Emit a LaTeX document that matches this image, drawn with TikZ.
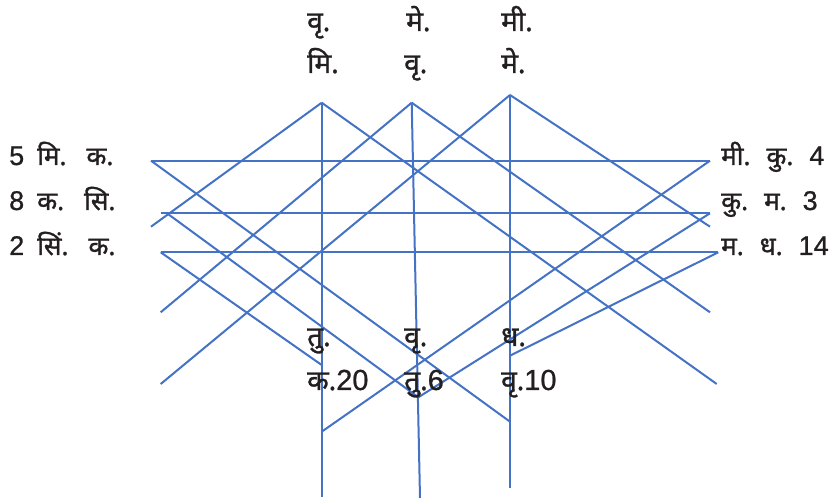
\documentclass[tikz,border=0pt]{standalone}
\usepackage{fontspec}
\newfontfamily\dev[Script=Devanagari,FakeBold=1.2]{Noto Sans}
\newfontfamily\lat[FakeBold=0.8]{Liberation Sans}
\definecolor{lineblue}{RGB}{68,114,196}
\definecolor{txt}{RGB}{35,31,32}
\newcommand{\wgap}{\hspace{16pt}}
\newcommand{\lwgap}{\hspace{20pt}}
\newcommand{\dgap}{\hspace{13pt}}
\newcommand{\dg}[1]{{\lat\fontsize{27}{29}\selectfont #1}}
\newcommand{\bdg}[1]{{\lat\fontsize{29}{31}\selectfont #1}}
\begin{document}
\begin{tikzpicture}[x=1pt,y=-1pt,
  ln/.style={draw=lineblue,line width=2pt},
  sidelbl/.style={anchor=base west,inner sep=0pt,text=txt,font=\dev\fontsize{26}{28}\selectfont},
  toplbl/.style={anchor=base west,inner sep=0pt,text=txt,font=\dev\fontsize{28}{30}\selectfont},
  botlbl/.style={anchor=base west,inner sep=0pt,text=txt,font=\dev\fontsize{28}{30}\selectfont}]
\useasboundingbox (0,0) rectangle (830,502);
% apexes and bottoms
\coordinate (A1) at (321.7,102.7);
\coordinate (A2) at (411.7,102.7);
\coordinate (A3) at (510,95);
\coordinate (B1) at (321.7,497);
\coordinate (B2) at (420,498);
\coordinate (B3) at (510,488);
% horizontals
\coordinate (L1) at (151,160.7);
\coordinate (R1) at (710,160.7);
\coordinate (L2) at (160.7,213.3);
\coordinate (L2d) at (167,213.3);
\coordinate (R2) at (710,213.3);
\coordinate (L3) at (160.7,252.3);
\coordinate (R3) at (718.3,252.3);
% diagonal ends
\coordinate (LA1) at (151,226.7);
\coordinate (LA2) at (160.7,312.3);
\coordinate (LA3) at (160.7,384);
\coordinate (RA1) at (716.7,384);
\coordinate (RA2) at (710,312.3);
\coordinate (RA3) at (710,226.7);
\coordinate (P1) at (321.7,365);
\coordinate (P2) at (321.7,431.7);
\coordinate (Q) at (418.3,397.3);
\coordinate (P3) at (510,421.7);
\coordinate (P4) at (510,355.7);
% lines
\draw[ln] (A1) -- (B1);
\draw[ln] (A2) -- (B2);
\draw[ln] (A3) -- (B3);
\draw[ln] (L1) -- (R1);
\draw[ln] (L2) -- (R2);
\draw[ln] (L3) -- (R3);
\draw[ln] (A1) -- (LA1);
\draw[ln] (A2) -- (LA2);
\draw[ln] (A3) -- (LA3);
\draw[ln] (A1) -- (RA1);
\draw[ln] (A2) -- (RA2);
\draw[ln] (A3) -- (RA3);
\draw[ln] (L1) -- (P3);
\draw[ln] (L2d) -- (Q);
\draw[ln] (L3) -- (P1);
\draw[ln] (P2) -- (R1);
\draw[ln] (Q) -- (R2);
\draw[ln] (P4) -- (R3);
% top labels
\node[toplbl] (t11) at (307,31) {वृ.};
\node[toplbl] (t12) at (406,31) {मे.};
\node[toplbl] (t13) at (501,31) {मी.};
\node[toplbl] (t21) at (307,73) {मि.};
\node[toplbl] (t22) at (404,73) {वृ.};
\node[toplbl] (t23) at (501,73) {मे.};
% left labels
\node[sidelbl] (l1) at (9,165) {\dg{5}\dgap मि.\lwgap क.};
\node[sidelbl] (l2) at (9,210) {\dg{8}\dgap क.\lwgap सि.};
\node[sidelbl] (l3) at (9,255) {\dg{2}\dgap सिं.\lwgap क.};
% right labels
\node[sidelbl] (r1) at (721,165) {मी.\wgap कु.\wgap\dg{4}};
\node[sidelbl] (r2) at (721,210) {कु.\wgap म.\wgap\dg{3}};
\node[sidelbl] (r3) at (721,255) {म.\wgap ध.\wgap\dg{14}};
% bottom labels
\node[botlbl] (b11) at (307,346) {तु.};
\node[botlbl] (b12) at (404,346) {वृ.};
\node[botlbl] (b13) at (501,346) {ध.};
\node[botlbl] (b21) at (307,390) {क.\bdg{20}};
\node[botlbl] (b22) at (404,390) {तु.\bdg{6}};
\node[botlbl] (b23) at (501,390) {वृ.\bdg{10}};
\end{tikzpicture}
\end{document}
